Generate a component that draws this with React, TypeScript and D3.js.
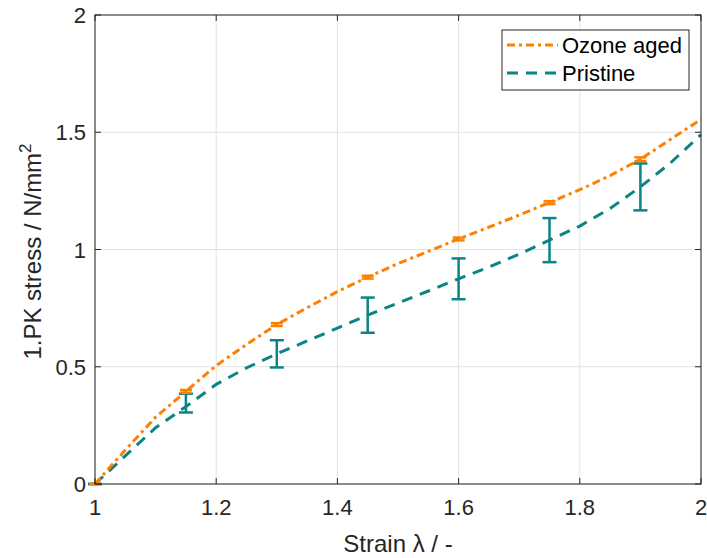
import React from "react";
import * as d3 from "d3";

const strain = [1.0, 1.05, 1.1, 1.15, 1.2, 1.25, 1.3, 1.35, 1.4, 1.45, 1.5, 1.55, 1.6, 1.65, 1.7, 1.75, 1.8, 1.85, 1.9, 1.95, 2.0];
const ozone = [0, 0.145, 0.285, 0.395, 0.505, 0.595, 0.68, 0.752, 0.82, 0.882, 0.94, 0.992, 1.045, 1.095, 1.147, 1.2, 1.255, 1.315, 1.385, 1.47, 1.555];
const pristine = [0, 0.12, 0.24, 0.33, 0.425, 0.495, 0.555, 0.61, 0.665, 0.72, 0.772, 0.823, 0.875, 0.925, 0.98, 1.04, 1.1, 1.175, 1.267, 1.37, 1.49];

const errStrain = [1.0, 1.15, 1.3, 1.45, 1.6, 1.75, 1.9];
const ozoneMean = [0, 0.395, 0.68, 0.882, 1.045, 1.2, 1.385];
const ozoneErr = [0, 0.006, 0.006, 0.006, 0.006, 0.006, 0.008];
const pristineMean = [0, 0.345, 0.555, 0.72, 0.875, 1.04, 1.267];
const pristineErr = [0, 0.04, 0.058, 0.075, 0.087, 0.094, 0.1];

const xTicks = [1, 1.2, 1.4, 1.6, 1.8, 2];
const yTicks = [0, 0.5, 1, 1.5, 2];

const ORANGE = "#ff8000";
const TEAL = "#0a8484";
const AX = "#262626";
const FONT = "Liberation Sans, Arial, Helvetica, sans-serif";

export default function App() {
  const W = 707, H = 558;
  const L = 95, R = 701, T = 15, B = 484;
  const x = d3.scaleLinear().domain([1, 2]).range([L, R]);
  const y = d3.scaleLinear().domain([0, 2]).range([B, T]);
  const line = d3.line<number>().x((_, i) => x(strain[i])).y((d) => y(d));
  const fmt = (v: number) => String(v);

  return (
    <svg width={W} height={H} style={{ position: "absolute", left: 0, top: 0, background: "#fff" }}>
      <rect x={0} y={0} width={W} height={H} fill="#fff" />
      {xTicks.map((t) => (
        <line key={"gx" + t} x1={x(t)} x2={x(t)} y1={T} y2={B} stroke="#e3e3e3" strokeWidth={1} />
      ))}
      {yTicks.map((t) => (
        <line key={"gy" + t} x1={L} x2={R} y1={y(t)} y2={y(t)} stroke="#e3e3e3" strokeWidth={1} />
      ))}
      <path d={line(pristine) || ""} fill="none" stroke={TEAL} strokeWidth={3} strokeDasharray="11 8" />
      {errStrain.map((s, i) => {
        const cx = x(s);
        const y1 = y(pristineMean[i] + pristineErr[i]);
        const y2 = y(pristineMean[i] - pristineErr[i]);
        return (
          <g key={"pe" + i} stroke={TEAL} strokeWidth={2.5}>
            <line x1={cx} x2={cx} y1={y1} y2={y2} />
            <line x1={cx - 7} x2={cx + 7} y1={y1} y2={y1} />
            <line x1={cx - 7} x2={cx + 7} y1={y2} y2={y2} />
          </g>
        );
      })}
      <path d={line(ozone) || ""} fill="none" stroke={ORANGE} strokeWidth={3} strokeDasharray="8 4 3 4" />
      {errStrain.map((s, i) => {
        const cx = x(s);
        const y1 = y(ozoneMean[i] + ozoneErr[i]);
        const y2 = y(ozoneMean[i] - ozoneErr[i]);
        return (
          <g key={"oe" + i} stroke={ORANGE} strokeWidth={2.5}>
            <line x1={cx} x2={cx} y1={y1} y2={y2} />
            <line x1={cx - 6} x2={cx + 6} y1={y1} y2={y1} />
            <line x1={cx - 6} x2={cx + 6} y1={y2} y2={y2} />
          </g>
        );
      })}
      <rect x={L} y={T} width={R - L} height={B - T} fill="none" stroke={AX} strokeWidth={1} />
      {xTicks.map((t) => (
        <g key={"tx" + t}>
          <line x1={x(t)} x2={x(t)} y1={B} y2={B - 6} stroke={AX} />
          <line x1={x(t)} x2={x(t)} y1={T} y2={T + 6} stroke={AX} />
          <text x={x(t)} y={B + 31} textAnchor="middle" fontFamily={FONT} fontSize={22} fill={AX}>{fmt(t)}</text>
        </g>
      ))}
      {yTicks.map((t) => (
        <g key={"ty" + t}>
          <line x1={L} x2={L + 6} y1={y(t)} y2={y(t)} stroke={AX} />
          <line x1={R} x2={R - 6} y1={y(t)} y2={y(t)} stroke={AX} />
          <text x={L - 9} y={y(t) + 8} textAnchor="end" fontFamily={FONT} fontSize={22} fill={AX}>{fmt(t)}</text>
        </g>
      ))}
      <text x={(L + R) / 2} y={552} textAnchor="middle" fontFamily={FONT} fontSize={24} fill={AX}>Strain λ / -</text>
      <text transform={`translate(41, ${(T + B) / 2 + 2}) rotate(-90)`} textAnchor="middle" fontFamily={FONT} fontSize={24} fill={AX}>
        1.PK stress / N/mm<tspan dy={-10} fontSize={17}>2</tspan>
      </text>
      <rect x={502} y={30} width={187} height={60} fill="#fff" stroke={AX} strokeWidth={1} />
      <line x1={507} x2={558} y1={45} y2={45} stroke={ORANGE} strokeWidth={3} strokeDasharray="8 4 3 4" />
      <line x1={507} x2={558} y1={73} y2={73} stroke={TEAL} strokeWidth={3} strokeDasharray="11 8" />
      <text x={562} y={53} fontFamily={FONT} fontSize={22} fill="#000">Ozone aged</text>
      <text x={562} y={81} fontFamily={FONT} fontSize={22} fill="#000">Pristine</text>
    </svg>
  );
}
